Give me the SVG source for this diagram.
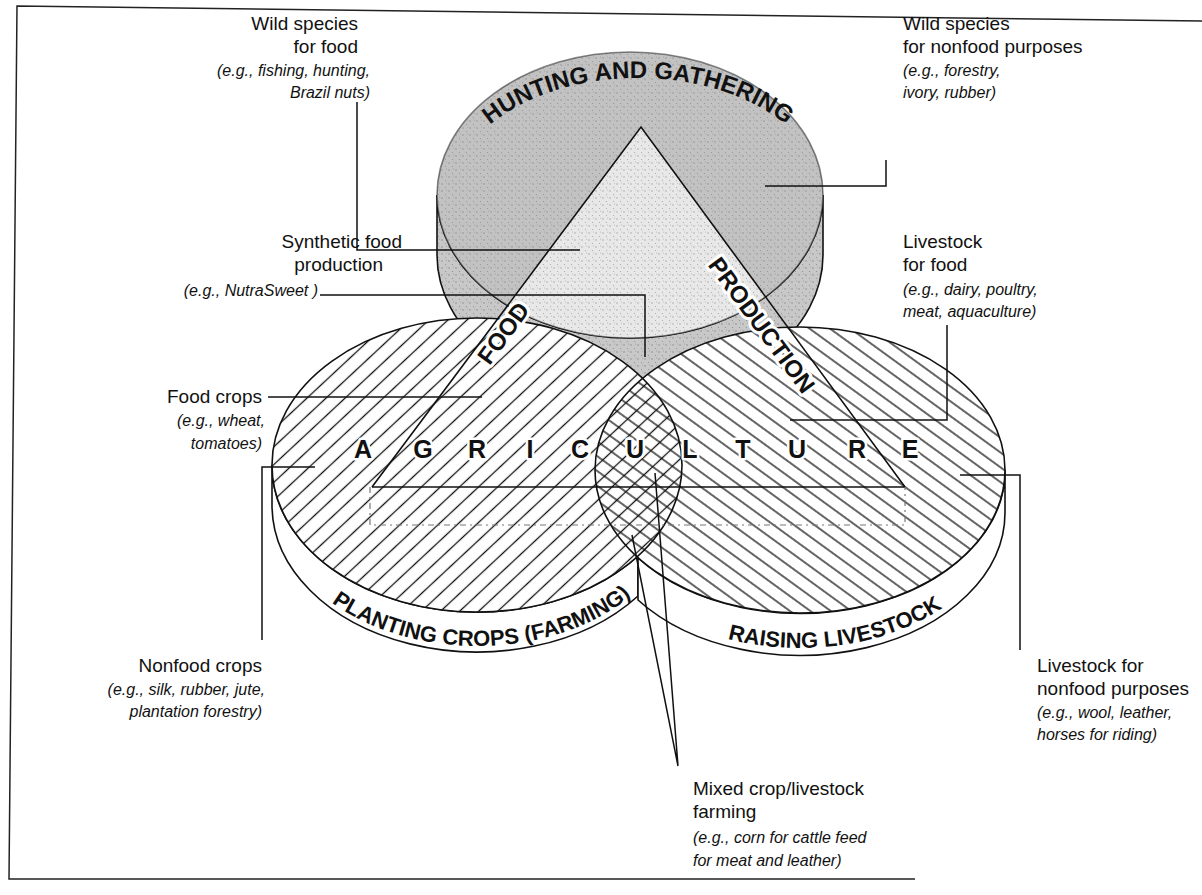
<svg xmlns="http://www.w3.org/2000/svg" width="1202" height="895" viewBox="0 0 1202 895">
<style>
.lbl{font-family:"Liberation Sans",Arial,sans-serif;font-size:19px;fill:#111}
.eg{font-family:"Liberation Sans",Arial,sans-serif;font-size:16px;font-style:italic;fill:#111}
.cap{font-family:"Liberation Sans",Arial,sans-serif;font-weight:bold;fill:#111}
.halo{stroke:#fff;stroke-width:6;stroke-linejoin:round;paint-order:stroke}
.ld{fill:none;stroke:#111;stroke-width:1.5}
.edge{stroke:#111;stroke-width:1.6}
.dash{fill:none;stroke:#777;stroke-width:1.2;stroke-dasharray:6 4 2 4}
</style>
<defs>
<pattern id="hL" patternUnits="userSpaceOnUse" width="13" height="13" patternTransform="rotate(-43)">
<line x1="0" y1="6.5" x2="13" y2="6.5" stroke="#111" stroke-width="1.3"/>
</pattern>
<pattern id="hR" patternUnits="userSpaceOnUse" width="12" height="12" patternTransform="rotate(36)">
<line x1="0" y1="6" x2="12" y2="6" stroke="#111" stroke-width="1.3"/>
</pattern>
<pattern id="dots" patternUnits="userSpaceOnUse" width="7" height="7">
<circle cx="1" cy="2" r="0.7" fill="#555"/><circle cx="4.5" cy="5.5" r="0.6" fill="#666"/><circle cx="5.5" cy="1" r="0.5" fill="#777"/>
</pattern>
<clipPath id="topFace"><ellipse cx="630" cy="195" rx="193" ry="143"/></clipPath>
<path id="arcTop" d="M 450,200 A 188 122 0 0 1 826,200"/>
<path id="arcL" d="M 272,499 A 205 147 0 0 0 682,499"/>
<path id="arcR" d="M 595,505 A 205 143 0 0 0 1005,505"/>
</defs>

<polyline points="1202,21 17,6 9,879 915,879" fill="none" stroke="#222" stroke-width="1.5"/>

<g id="hunting-gathering">
<path d="M 437,195 L 437,255 A 193 143 0 0 0 823,255 L 823,195 A 193 143 0 0 1 437,195 Z" fill="#c8c8c8" class="edge"/>
<ellipse cx="630" cy="195" rx="193" ry="143" fill="#c2c2c2"/>
<polygon points="641,127 372,487 905,487" fill="#e8e8e8" clip-path="url(#topFace)"/>
<path d="M 437,195 L 437,255 A 193 143 0 0 0 823,255 L 823,195 A 193 143 0 0 1 437,195 Z" fill="url(#dots)" opacity="0.6"/>
<ellipse cx="630" cy="195" rx="193" ry="143" fill="url(#dots)" opacity="0.5" stroke="#111" stroke-width="1.6"/>
<text class="cap" font-size="24"><textPath href="#arcTop" startOffset="50%" text-anchor="middle">HUNTING AND GATHERING</textPath></text>
</g>

<g id="planting-crops">
<path d="M 638,556 A 205 147 0 0 1 272,465 L 272,505 A 205 147 0 0 0 638,596 Z" fill="#fff" class="edge"/>
<ellipse cx="477" cy="465" rx="205" ry="147" fill="#fff"/>
</g>
<g id="raising-livestock">
<path d="M 638,558 A 205 143 0 0 0 1005,470 L 1005,512 A 205 143 0 0 1 638,600 Z" fill="#fff" class="edge"/>
<ellipse cx="800" cy="470" rx="205" ry="143" fill="#fff"/>
</g>
<g id="hatching">
<ellipse cx="477" cy="465" rx="205" ry="147" fill="url(#hL)"/>
<ellipse cx="800" cy="470" rx="205" ry="143" fill="url(#hR)"/>
<ellipse cx="477" cy="465" rx="205" ry="147" fill="none" class="edge"/>
<ellipse cx="800" cy="470" rx="205" ry="143" fill="none" class="edge"/>
</g>
<g id="band-labels">
<text class="cap" font-size="22"><textPath href="#arcL" startOffset="51%" text-anchor="middle">PLANTING CROPS (FARMING)</textPath></text>
<text class="cap" font-size="22"><textPath href="#arcR" startOffset="57%" text-anchor="middle">RAISING LIVESTOCK</textPath></text>
</g>

<g id="food-production-triangle">
<polyline points="372,487 641,127 905,487" fill="none" class="edge"/>
<line x1="372" y1="487" x2="905" y2="487" class="edge"/>
<polyline points="370,487 370,525 905,525 905,487" class="dash"/>
<text class="cap halo" font-size="24" transform="translate(510,338) rotate(-53.7)" text-anchor="middle">FOOD</text>
<text class="cap halo" font-size="24" transform="translate(755,330) rotate(53.7)" text-anchor="middle">PRODUCTION</text>
</g>

<g id="agriculture">
<text class="cap halo" font-size="25" y="458" text-anchor="middle" style="stroke-width:5">
<tspan x="363">A</tspan><tspan x="423">G</tspan><tspan x="477">R</tspan><tspan x="530">I</tspan><tspan x="580">C</tspan><tspan x="635">U</tspan><tspan x="690">L</tspan><tspan x="743">T</tspan><tspan x="797">U</tspan><tspan x="857">R</tspan><tspan x="910">E</tspan>
</text>
</g>

<g id="connectors">
<polyline class="ld" points="357,102 357,250 580,250"/>
<polyline class="ld" points="320,295 645,295 645,357"/>
<line class="ld" x1="268" y1="397" x2="482" y2="397"/>
<polyline class="ld" points="315,467 262,467 262,640"/>
<polyline class="ld" points="886,160 886,186 765,186"/>
<polyline class="ld" points="947,325 947,420 790,420"/>
<polyline class="ld" points="960,475 1020,475 1020,650"/>
<polyline class="ld" points="655,473 678,766 632,535"/>
</g>

<g id="label-wild-food">
<text class="lbl" x="358" y="30" text-anchor="end">Wild species</text>
<text class="lbl" x="358" y="53" text-anchor="end">for food</text>
<text class="eg" x="370" y="76" text-anchor="end">(e.g., fishing, hunting,</text>
<text class="eg" x="370" y="98" text-anchor="end">Brazil nuts)</text>
</g>
<g id="label-wild-nonfood">
<text class="lbl" x="903" y="30">Wild species</text>
<text class="lbl" x="903" y="53">for nonfood purposes</text>
<text class="eg" x="903" y="76">(e.g., forestry,</text>
<text class="eg" x="903" y="98">ivory, rubber)</text>
</g>
<g id="label-synthetic">
<text class="lbl" x="402" y="248" text-anchor="end">Synthetic food</text>
<text class="lbl" x="383" y="271" text-anchor="end">production</text>
<text class="eg" x="318" y="296" text-anchor="end">(e.g., NutraSweet )</text>
</g>
<g id="label-livestock-food">
<text class="lbl" x="903" y="248">Livestock</text>
<text class="lbl" x="903" y="271">for food</text>
<text class="eg" x="903" y="295">(e.g., dairy, poultry,</text>
<text class="eg" x="903" y="317">meat, aquaculture)</text>
</g>
<g id="label-food-crops">
<text class="lbl" x="262" y="403" text-anchor="end">Food crops</text>
<text class="eg" x="265" y="426" text-anchor="end">(e.g., wheat,</text>
<text class="eg" x="262" y="449" text-anchor="end">tomatoes)</text>
</g>
<g id="label-nonfood-crops">
<text class="lbl" x="262" y="672" text-anchor="end">Nonfood crops</text>
<text class="eg" x="265" y="695" text-anchor="end">(e.g., silk, rubber, jute,</text>
<text class="eg" x="262" y="717" text-anchor="end">plantation forestry)</text>
</g>
<g id="label-livestock-nonfood">
<text class="lbl" x="1037" y="672">Livestock for</text>
<text class="lbl" x="1037" y="695">nonfood purposes</text>
<text class="eg" x="1037" y="718">(e.g., wool, leather,</text>
<text class="eg" x="1037" y="740">horses for riding)</text>
</g>
<g id="label-mixed">
<text class="lbl" x="693" y="795">Mixed crop/livestock</text>
<text class="lbl" x="693" y="818">farming</text>
<text class="eg" x="693" y="843">(e.g., corn for cattle feed</text>
<text class="eg" x="693" y="866">for meat and leather)</text>
</g>
</svg>
